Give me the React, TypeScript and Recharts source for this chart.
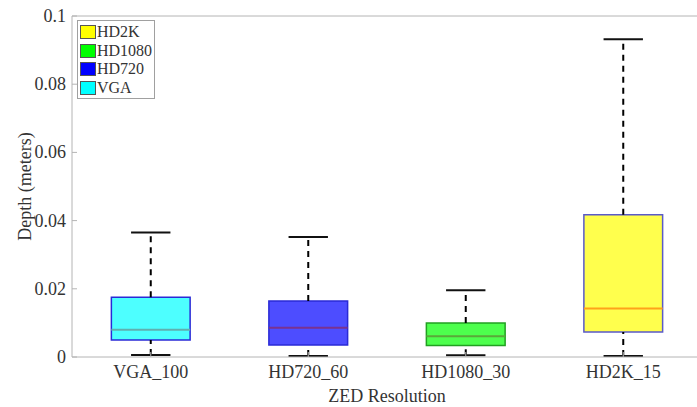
import React from "react";
import {
  ComposedChart,
  XAxis,
  YAxis,
  Scatter,
  ReferenceArea,
  ReferenceLine,
  Label,
} from "recharts";

// box plot stats per resolution (depth error in meters)
const categories = ["VGA_100", "HD720_60", "HD1080_30", "HD2K_15"];
const mins = [0.0006, 0.0003, 0.0005, 0.0003];
const q1s = [0.005, 0.0035, 0.0034, 0.0073];
const medians = [0.008, 0.0086, 0.0061, 0.0142];
const q3s = [0.0175, 0.0164, 0.01, 0.0417];
const maxs = [0.0365, 0.0352, 0.0196, 0.0932];
const yTicks = [0, 0.02, 0.04, 0.06, 0.08, 0.1];

const fills = ["#4dffff", "#4d4dff", "#4dff4d", "#ffff4d"];
const edges = ["#2a2ad6", "#2a2ad6", "#22a022", "#5a5ac8"];
const medianColors = ["#5fb0b0", "#7a3290", "#5aa83a", "#ffa21a"];

const legendItems = [
  { name: "HD2K", color: "#ffff00" },
  { name: "HD1080", color: "#00ff00" },
  { name: "HD720", color: "#0000ff" },
  { name: "VGA", color: "#00ffff" },
];

const FONT = "'Liberation Serif', 'Times New Roman', serif";
const TEXT = "#333333";
const AXIS = "#b4b4b4";

const points = categories.map((c, i) => ({ x: i + 1, y: medians[i] }));

const XTick = (props: any) => {
  const { x, y, payload } = props;
  return (
    <text x={x} y={y + 26} textAnchor="middle" fill={TEXT} fontSize={18} style={{ fontFamily: FONT }}>
      {categories[payload.value - 1]}
    </text>
  );
};

const YTick = (props: any) => {
  const { x, y, payload } = props;
  return (
    <text x={x - 11} y={y + 6} textAnchor="end" fill={TEXT} fontSize={18} style={{ fontFamily: FONT }}>
      {String(Number(Number(payload.value).toFixed(2)))}
    </text>
  );
};

export default function App() {
  return (
    <div
      style={{
        position: "absolute",
        left: 0,
        top: 0,
        width: 697,
        height: 407,
        overflow: "hidden",
        background: "#fff",
      }}
    >
      <ComposedChart
        width={712}
        height={407}
        margin={{ top: 16, right: 10, bottom: 0, left: 0 }}
      >
        <XAxis
          type="number"
          dataKey="x"
          domain={[0.5, 4.5]}
          ticks={[1, 2, 3, 4]}
          height={50}
          tickSize={-5}
          tickMargin={0}
          tickLine={{ stroke: AXIS }}
          axisLine={{ stroke: AXIS }}
          tick={<XTick />}
          allowDataOverflow
        >
          <Label
            content={(p: any) => (
              <text
                x={p.viewBox.x + p.viewBox.width / 2}
                y={p.viewBox.y + p.viewBox.height - 5}
                textAnchor="middle"
                fill={TEXT}
                fontSize={18}
                style={{ fontFamily: FONT }}
              >
                ZED Resolution
              </text>
            )}
          />
        </XAxis>
        <YAxis
          type="number"
          dataKey="y"
          domain={[0, 0.1]}
          ticks={yTicks}
          width={72}
          tickSize={-5}
          tickMargin={0}
          tickLine={{ stroke: AXIS }}
          axisLine={{ stroke: AXIS }}
          tick={<YTick />}
          allowDataOverflow
        >
          <Label
            content={(p: any) => {
              const cx = 31;
              const cy = p.viewBox.y + p.viewBox.height / 2;
              return (
                <text
                  x={cx}
                  y={cy}
                  transform={`rotate(-90 ${cx} ${cy})`}
                  textAnchor="middle"
                  fill={TEXT}
                  fontSize={18}
                  style={{ fontFamily: FONT }}
                >
                  Depth (meters)
                </text>
              );
            }}
          />
        </YAxis>
        {/* top border of the axes box */}
        <ReferenceLine y={0.1} stroke={AXIS} />

        {categories.map((c, i) => {
          const x = i + 1;
          return (
            <React.Fragment key={c}>
              <ReferenceLine
                segment={[{ x, y: q3s[i] }, { x, y: maxs[i] }]}
                stroke="#000"
                strokeWidth={2}
                strokeDasharray="6 5"
              />
              <ReferenceLine
                segment={[{ x, y: mins[i] }, { x, y: q1s[i] }]}
                stroke="#000"
                strokeWidth={2}
                strokeDasharray="6 5"
              />
              <ReferenceLine
                segment={[{ x: x - 0.125, y: maxs[i] }, { x: x + 0.125, y: maxs[i] }]}
                stroke="#111"
                strokeWidth={2}
              />
              <ReferenceLine
                segment={[{ x: x - 0.125, y: mins[i] }, { x: x + 0.125, y: mins[i] }]}
                stroke="#111"
                strokeWidth={2}
              />
              <ReferenceArea
                x1={x - 0.25}
                x2={x + 0.25}
                y1={q1s[i]}
                y2={q3s[i]}
                fill={fills[i]}
                fillOpacity={1}
                stroke={edges[i]}
                strokeWidth={1.5}
              />
              <ReferenceLine
                segment={[{ x: x - 0.25, y: medians[i] }, { x: x + 0.25, y: medians[i] }]}
                stroke={medianColors[i]}
                strokeWidth={2}
              />
            </React.Fragment>
          );
        })}
        <Scatter
          data={points}
          dataKey="y"
          isAnimationActive={false}
          shape={() => <g />}
          legendType="none"
        />
      </ComposedChart>

      <div
        style={{
          position: "absolute",
          left: 77,
          top: 20,
          width: 78,
          border: "1px solid #a0a0a0",
          background: "#fff",
          padding: "2px 0 1px 2px",
          boxSizing: "border-box",
          fontFamily: FONT,
        }}
      >
        {legendItems.map((it) => (
          <div
            key={it.name}
            style={{ display: "flex", alignItems: "center", height: 18.5 }}
          >
            <span
              style={{
                display: "inline-block",
                width: 16,
                height: 14,
                background: it.color,
                border: "1px solid #555",
                boxSizing: "border-box",
                marginRight: 1,
              }}
            />
            <span style={{ fontSize: 16, color: TEXT, lineHeight: "18px" }}>
              {it.name}
            </span>
          </div>
        ))}
      </div>
    </div>
  );
}
